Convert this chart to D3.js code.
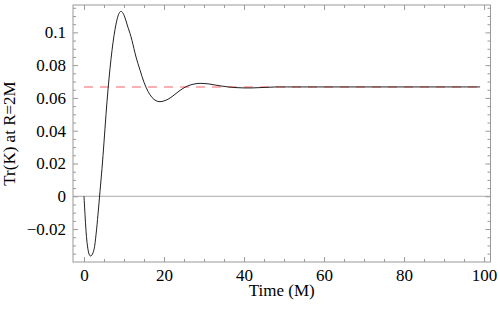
<!DOCTYPE html>
<html>
<head>
<meta charset="utf-8">
<script src="https://cdn.jsdelivr.net/npm/d3@7"></script>
<style>
  body { margin: 0; background: #fff; }
  svg text { font-family: "Liberation Serif", "Times New Roman", serif; font-size: 17px; fill: #000; }
</style>
</head>
<body>
<div id="chart"></div>
<script>
// data
const times = [0, 0.25, 0.5, 0.75, 1, 1.25, 1.5, 1.75, 2, 2.5, 3, 3.5, 4, 4.5, 5, 5.5, 6, 6.5, 7, 7.5, 8, 8.5, 9, 9.25, 9.5, 10, 10.5, 11, 11.5, 12, 13, 14, 15, 16, 17, 18, 19, 20, 21, 22, 23, 24, 25, 26, 27, 28, 29, 30, 31, 32, 34, 36, 38, 40, 42, 44, 46, 48, 50, 60, 70, 80, 90, 99];
const trK = [0, -0.011, -0.021, -0.028, -0.0325, -0.0352, -0.0363, -0.0364, -0.0358, -0.0325, -0.0235, -0.0110, 0.003, 0.017, 0.033, 0.050, 0.065, 0.078, 0.089, 0.098, 0.105, 0.110, 0.1125, 0.1128, 0.1125, 0.1105, 0.107, 0.103, 0.0994, 0.095, 0.085, 0.077, 0.0695, 0.064, 0.0603, 0.0583, 0.0577, 0.0582, 0.0592, 0.0608, 0.0627, 0.0646, 0.0662, 0.0674, 0.0682, 0.0687, 0.0689, 0.0688, 0.0686, 0.0682, 0.0674, 0.0667, 0.0663, 0.0661, 0.0661, 0.0663, 0.0665, 0.0667, 0.0667, 0.0667, 0.0667, 0.0667, 0.0667, 0.0667];
const refLevel = 1 / 15;        // dashed line
const refRange = [0, 99];

const xMajor = [0, 20, 40, 60, 80, 100];
const xMinor = [5, 10, 15, 25, 30, 35, 45, 50, 55, 65, 70, 75, 85, 90, 95];
const yMajor = [-0.02, 0, 0.02, 0.04, 0.06, 0.08, 0.1];
const yMajorLabels = ["\u22120.02", "0", "0.02", "0.04", "0.06", "0.08", "0.1"];
const yMinor = [-0.035, -0.03, -0.025, -0.015, -0.01, -0.005, 0.005, 0.01, 0.015, 0.025, 0.03, 0.035, 0.045, 0.05, 0.055, 0.065, 0.07, 0.075, 0.085, 0.09, 0.095, 0.105, 0.11, 0.115];

const W = 500, H = 309;
const plotL = 73, plotR = 490.5, plotT = 5, plotB = 262;
const serif = '"Liberation Serif", "Times New Roman", serif';

const svg = d3.select("#chart").append("svg")
    .attr("width", W)
    .attr("height", H);

const x = d3.scaleLinear().domain([-2.75, 101.6]).range([plotL, plotR]);
const y = d3.scaleLinear().domain([-0.0401, 0.1167]).range([plotB, plotT]);

// zero line
svg.append("line")
    .attr("x1", plotL).attr("x2", plotR)
    .attr("y1", y(0)).attr("y2", y(0))
    .attr("stroke", "#a8a8a8").attr("stroke-width", 1);

// dashed reference level
svg.append("line")
    .attr("x1", x(refRange[0])).attr("x2", x(refRange[1]))
    .attr("y1", y(refLevel)).attr("y2", y(refLevel))
    .attr("stroke", "#ff6060").attr("stroke-width", 1)
    .attr("stroke-dasharray", "9,7");

// curve
const pts = times.map((t, i) => [t, trK[i]]);
const line = d3.line()
    .x(d => x(d[0]))
    .y(d => y(d[1]))
    .curve(d3.curveCatmullRom.alpha(0.5));

svg.append("path")
    .datum(pts)
    .attr("d", line)
    .attr("fill", "none")
    .attr("stroke", "#222")
    .attr("stroke-width", 1);

// frame with inward ticks on all sides
function addAxis(axisFn, scale, vals, size, transform, labels) {
    const ax = axisFn(scale).tickValues(vals).tickSizeInner(size).tickSizeOuter(0);
    if (labels) ax.tickFormat((d, i) => labels[i]);
    else ax.tickFormat("");
    const g = svg.append("g").attr("transform", transform).call(ax)
        .attr("font-family", serif).attr("font-size", 17);
    g.select(".domain").remove();
    g.selectAll(".tick line").attr("stroke", "#999").attr("stroke-width", 1);
    g.selectAll(".tick text").style("font-family", serif).style("font-size", "17px").attr("fill", "#000");
    return g;
}

const gxb = addAxis(d3.axisBottom, x, xMajor, -5, `translate(0,${plotB})`, xMajor.map(String));
gxb.selectAll(".tick text").attr("y", 19).attr("dy", 0);
addAxis(d3.axisBottom, x, xMinor, -3, `translate(0,${plotB})`);
addAxis(d3.axisTop, x, xMajor, -5, `translate(0,${plotT})`);
addAxis(d3.axisTop, x, xMinor, -3, `translate(0,${plotT})`);

const gyl = addAxis(d3.axisLeft, y, yMajor, -5, `translate(${plotL},0)`, yMajorLabels);
gyl.selectAll(".tick text").attr("x", -7).attr("dy", "0.32em");
addAxis(d3.axisLeft, y, yMinor, -3, `translate(${plotL},0)`);
addAxis(d3.axisRight, y, yMajor, -5, `translate(${plotR},0)`);
addAxis(d3.axisRight, y, yMinor, -3, `translate(${plotR},0)`);

svg.append("rect")
    .attr("x", plotL).attr("y", plotT)
    .attr("width", plotR - plotL).attr("height", plotB - plotT)
    .attr("fill", "none")
    .attr("stroke", "#999").attr("stroke-width", 1);

// axis titles
svg.append("text")
    .attr("x", (plotL + plotR) / 2)
    .attr("y", 296)
    .attr("text-anchor", "middle")
    .text("Time (M)");

svg.append("text")
    .attr("transform", `translate(15,${(plotT + plotB) / 2}) rotate(-90)`)
    .attr("text-anchor", "middle")
    .text("Tr(K) at R=2M");
</script>
</body>
</html>
